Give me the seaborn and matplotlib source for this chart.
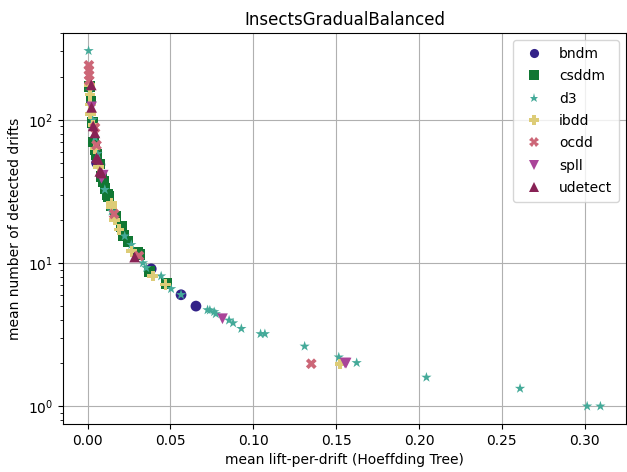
import numpy as np
import pandas as pd
import matplotlib
matplotlib.use("Agg")
import matplotlib.pyplot as plt
import seaborn as sns

detectors = ["bndm", "csddm", "d3", "ibdd", "ocdd", "spll", "udetect"]
colors = ["#332288", "#117733", "#44AA99", "#DDCC77", "#CC6677", "#AA4499", "#882255"]
markers = ["o", "s", "*", "P", "X", "v", "^"]

bndm_x = [0.0054, 0.0074, 0.0384, 0.0564, 0.0654]
bndm_y = [50, 48.6, 9.1, 6.0, 5.0]

csddm_x = [0.0012, 0.002, 0.003, 0.0035, 0.0045, 0.0055, 0.007, 0.0085, 0.0095, 0.0105,
           0.012, 0.0125, 0.0145, 0.017, 0.0204, 0.0215, 0.0244, 0.0304, 0.0314, 0.0374, 0.0474]
csddm_y = [170, 135, 96, 70, 62, 57, 49, 40, 37, 33,
           30, 29, 25, 21, 18, 15.5, 14.1, 11.8, 11.4, 8.75, 7.2]

d3_x = [0.0006, 0.0015, 0.003, 0.0045, 0.006, 0.0104, 0.0145, 0.0224, 0.0264, 0.0334,
        0.0354, 0.0444, 0.0504, 0.0564, 0.0724, 0.0738, 0.0764, 0.0774, 0.0854, 0.0878,
        0.0928, 0.1044, 0.107, 0.131, 0.1516, 0.1624, 0.2045, 0.261, 0.3015, 0.3095]
d3_y = [303, 160, 100, 75, 58, 32.5, 23, 15.4, 13.4, 10.0,
        9.25, 8.1, 6.6, 6.0, 4.7, 4.68, 4.56, 4.41, 3.98, 3.81,
        3.48, 3.2, 3.2, 2.62, 2.2, 2.01, 1.59, 1.33, 1.0, 1.0]

ibdd_x = [0.0012, 0.0014, 0.0016, 0.0016, 0.0034, 0.0044, 0.0065, 0.0144, 0.0144, 0.0164,
          0.019, 0.0264, 0.0394, 0.0471, 0.1524]
ibdd_y = [175, 150, 128, 110, 92, 63, 47, 26.2, 24.5, 20,
          17.1, 12.1, 8.1, 7.07, 1.97]

ocdd_x = [0.0008, 0.0008, 0.0009, 0.001, 0.0045, 0.0054, 0.016, 0.031, 0.135]
ocdd_y = [240, 222, 205, 188, 88, 66.5, 22, 11.2, 1.98]

spll_x = [0.0024, 0.0084, 0.0094, 0.0814, 0.1554, 0.156]
spll_y = [123, 39, 41, 4.08, 2.0, 2.0]

udetect_x = [0.0022, 0.0024, 0.0034, 0.0044, 0.0054, 0.0064, 0.0074, 0.0084, 0.0284]
udetect_y = [175, 122, 90.6, 81, 54.3, 52.8, 43.6, 42.5, 11.0]

series = {
    "bndm": (bndm_x, bndm_y),
    "csddm": (csddm_x, csddm_y),
    "d3": (d3_x, d3_y),
    "ibdd": (ibdd_x, ibdd_y),
    "ocdd": (ocdd_x, ocdd_y),
    "spll": (spll_x, spll_y),
    "udetect": (udetect_x, udetect_y),
}

rows = []
for name in detectors:
    xs, ys = series[name]
    for xv, yv in zip(xs, ys):
        rows.append({"detector": name, "lift": xv, "drifts": yv})
df = pd.DataFrame(rows)

fig = plt.figure(figsize=(6.27, 4.72), dpi=100)
ax = fig.add_axes([63 / 627, 48 / 472, 563 / 627, 391 / 472])
sns.scatterplot(data=df, x="lift", y="drifts", hue="detector", style="detector",
                hue_order=detectors, style_order=detectors,
                palette=dict(zip(detectors, colors)),
                markers=dict(zip(detectors, markers)),
                s=60, linewidth=0, edgecolor="none", ax=ax)
ax.set_yscale("log")
ax.grid(True, which="major", color="#b0b0b0", linewidth=0.8)
ax.set_axisbelow(True)
ax.set_title("InsectsGradualBalanced")
ax.set_xlabel("mean lift-per-drift (Hoeffding Tree)")
ax.set_ylabel("mean number of detected drifts")
sns.move_legend(ax, "upper right", title=None, markerscale=0.85,
                labelspacing=0.6, borderpad=0.5)
fig.savefig("out.png", dpi=100)
